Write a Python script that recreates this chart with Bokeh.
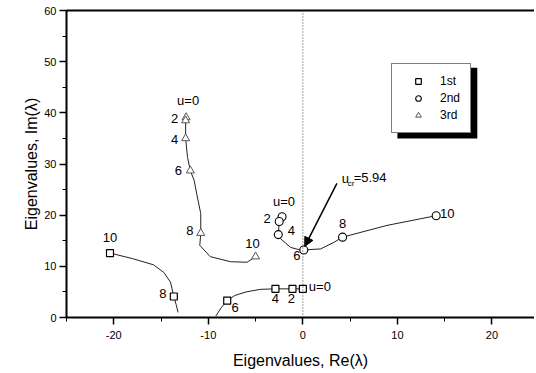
from bokeh.plotting import figure
from bokeh.models import (Range1d, LinearAxis, SingleIntervalTicker, FixedTicker, Span, BoxAnnotation,
                          Legend, LegendItem, Arrow, NormalHead, ColumnDataSource, CustomJSTickFormatter)
from bokeh.core.properties import value
from bokeh.embed import file_html
from bokeh.resources import INLINE

# ---------------- data ----------------
u_labels_1 = ["u=0", "2", "4", "6", "8", "10"]
u_labels_2 = ["u=0", "2", "4", "6", "8", "10"]
u_labels_3 = ["u=0", "2", "4", "6", "8", "10"]

# marker points (u = 0, 2, 4, 6, 8, 10)
m1_re = [0.0, -1.1, -2.9, -8.0, -13.65, -20.4]
m1_im = [5.6, 5.6, 5.6, 3.3, 4.1, 12.6]
m2_re = [-2.2, -2.5, -2.6, 0.1, 4.2, 14.1]
m2_im = [19.7, 18.75, 16.2, 13.2, 15.7, 19.9]
m3_re = [-12.35, -12.4, -12.4, -11.9, -10.8, -5.0]
m3_im = [39.1, 38.5, 35.0, 28.7, 16.5, 11.9]

# loci (curves through the points)
c1a_re = [-9.2, -8.6, -8.0, -7.2, -6.0, -4.5, -2.9, -1.1, 0.0]
c1a_im = [0.3, 2.0, 3.3, 4.3, 5.0, 5.5, 5.6, 5.6, 5.6]
c1b_re = [-13.2, -13.4, -13.65, -14.0, -14.7, -15.8, -18.0, -20.4]
c1b_im = [1.0, 2.5, 4.1, 6.9, 8.8, 10.3, 11.5, 12.6]
c2_re = [-2.2, -2.5, -2.6, -2.36, -1.3, -0.5, 0.1, 1.87, 3.3, 4.2, 8.9, 14.1]
c2_im = [19.7, 18.75, 16.2, 15.4, 13.7, 13.3, 13.2, 13.4, 14.7, 15.7, 18.0, 19.9]
c3_re = [-12.35, -12.4, -12.4, -12.2, -11.9, -11.5, -11.1, -10.8, -10.8, -10.9, -9.8, -7.65, -5.9, -5.0]
c3_im = [39.1, 38.5, 35.0, 31.3, 28.7, 26.8, 23.0, 20.3, 16.5, 14.1, 11.9, 10.9, 10.8, 11.9]

series_names = ["1st", "2nd", "3rd"]
x_ticks_interval = 10
y_ticks_interval = 10

# critical-speed annotation
ucr_text = ["u", "cr", "=5.94"]
ucr_re, ucr_im = 4.1, 27.2
arrow_start = (3.6, 26.2)
arrow_end = (0.2, 13.9)

# ---------------- styles ----------------
FONT = "Liberation Sans"
lab_off_1 = [(17, -2), (-1, 10), (0, 10), (8, 7), (-11, -3), (0, -16)]
lab_off_2 = [(2, -15), (-12, -3), (13, -4), (-7, 6), (0, -14), (11, -2)]
lab_off_3 = [(2, -17), (-11, -2), (-11, 1), (-12, 0), (-11, -3), (-3, -13)]
legend_loc = (325, 184)
shadow_box = dict(left=10.0, right=18.45, bottom=35.0, top=48.8)

p = figure(frame_width=468, frame_height=307, output_backend="svg", toolbar_location=None,
           x_range=Range1d(-25, 24.5), y_range=Range1d(0, 60),
           min_border_left=66, min_border_right=0, min_border_top=10, min_border_bottom=56,
           x_axis_label="Eigenvalues, Re(λ)", y_axis_label="Eigenvalues, Im(λ)")
p.grid.visible = False
p.outline_line_color = None
p.background_fill_color = "white"
p.border_fill_color = "white"

p.xaxis.ticker = SingleIntervalTicker(interval=x_ticks_interval, num_minor_ticks=2)
p.yaxis.ticker = SingleIntervalTicker(interval=y_ticks_interval, num_minor_ticks=2)
fmt = CustomJSTickFormatter(code="return String(Math.round(tick));")
for ax in (p.xaxis[0], p.yaxis[0]):
    ax.formatter = fmt
    ax.axis_line_width = 2
    ax.axis_line_color = "black"
    ax.major_tick_out = 7
    ax.major_tick_in = 0
    ax.minor_tick_out = 4
    ax.minor_tick_in = 0
    ax.major_tick_line_width = 1.5
    ax.major_label_text_font = FONT
    ax.major_label_text_font_size = "11px"
    ax.major_label_text_color = "black"
    ax.axis_label_text_font = FONT
    ax.axis_label_text_font_size = "16px"
    ax.axis_label_text_font_style = "normal"
    ax.axis_label_text_color = "black"
p.xaxis.major_label_standoff = 6
p.xaxis.axis_label_standoff = 10
p.yaxis.major_label_standoff = 3
p.yaxis.axis_label_standoff = 1

top = LinearAxis(ticker=FixedTicker(ticks=[]), axis_line_width=2, major_label_text_font_size="0px",
                 major_tick_out=0, minor_tick_out=0, major_label_standoff=0)
p.add_layout(top, "above")

p.add_layout(Span(location=0, dimension="height", line_color="#444", line_width=1, line_dash="1 2"))

LINE = "#222"
p.line(c1a_re, c1a_im, line_color=LINE, line_width=1)
p.line(c1b_re, c1b_im, line_color=LINE, line_width=1)
p.line(c2_re, c2_im, line_color=LINE, line_width=1)
p.line(c3_re, c3_im, line_color=LINE, line_width=1)

r1 = p.scatter(m1_re, m1_im, marker="square", size=7, fill_color="white", line_color="black", line_width=1.2)
r2 = p.scatter(m2_re, m2_im, marker="circle", size=8, fill_color="white", line_color="black", line_width=1.1)
r3 = p.scatter(m3_re, m3_im, marker="triangle", size=8, fill_color="white", line_color="#555", line_width=1)

for xs, ys, labs, offs in ((m1_re, m1_im, u_labels_1, lab_off_1),
                           (m2_re, m2_im, u_labels_2, lab_off_2),
                           (m3_re, m3_im, u_labels_3, lab_off_3)):
    src = ColumnDataSource(dict(x=xs, y=ys, t=labs, dx=[o[0] for o in offs], dy=[o[1] for o in offs]))
    p.text(x="x", y="y", text="t", x_offset="dx", y_offset="dy", source=src,
           text_font=value(FONT), text_font_size="13px", text_align="center",
           text_baseline="middle", text_color="black")

# u_cr annotation
p.text(x=[ucr_re], y=[ucr_im], text=[ucr_text[0]], x_offset=0, y_offset=0,
       text_font=value(FONT), text_font_size="13px", text_align="left", text_baseline="middle", text_color="black")
p.text(x=[ucr_re], y=[ucr_im], text=[ucr_text[1]], x_offset=6, y_offset=5,
       text_font=value(FONT), text_font_size="8px", text_align="left", text_baseline="middle", text_color="black")
p.text(x=[ucr_re], y=[ucr_im], text=[ucr_text[2]], x_offset=12, y_offset=-1,
       text_font=value(FONT), text_font_size="13px", text_align="left", text_baseline="middle", text_color="black")
p.add_layout(Arrow(end=NormalHead(size=9, fill_color="black", line_color="black"),
                   x_start=arrow_start[0], y_start=arrow_start[1],
                   x_end=arrow_end[0], y_end=arrow_end[1], line_width=1.5, line_color="black"))

# legend shadow
p.add_layout(BoxAnnotation(fill_color="black", fill_alpha=1.0, line_color=None, **shadow_box))

items = [LegendItem(label=series_names[0], renderers=[r1]),
         LegendItem(label=series_names[1], renderers=[r2]),
         LegendItem(label=series_names[2], renderers=[r3])]
legend = Legend(items=items, location=legend_loc, padding=10, glyph_width=32, glyph_height=14,
                label_height=14, label_standoff=6, spacing=3, margin=0,
                label_text_font=FONT, label_text_font_size="12px", label_text_color="black",
                border_line_color="black", border_line_width=1.2,
                background_fill_color="white", background_fill_alpha=1.0)
p.add_layout(legend, "center")

open("out.html", "w").write(file_html(p, INLINE))
